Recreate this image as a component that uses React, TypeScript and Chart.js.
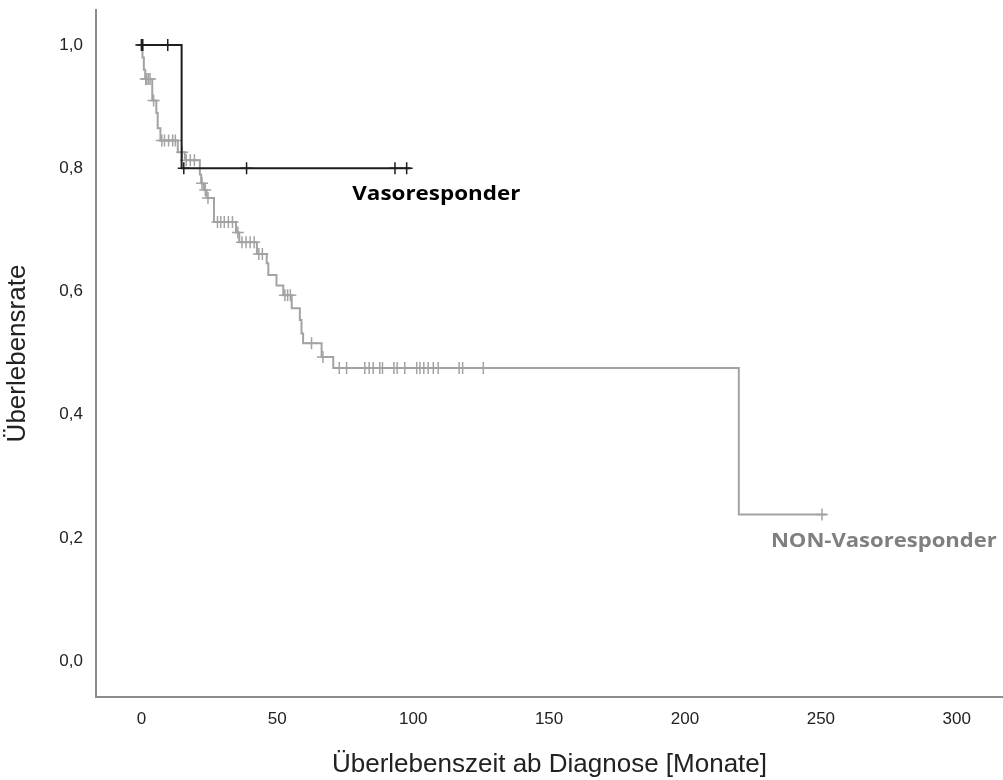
import React, { useEffect, useRef } from 'react';
import { Chart, registerables } from 'chart.js';

Chart.register(...registerables);

// Axis ticks
const xTicks = [0, 50, 100, 150, 200, 250, 300];
const yTicks = [0, 0.2, 0.4, 0.6, 0.8, 1.0];

// Vasoresponder: event times (months) and survival after each step
const vasoTimes = [0, 14.8, 99];
const vasoSurv = [1.0, 0.8, 0.8];
const vasoCensored = [0, 0.5, 9.7, 15.6, 38.7, 93.3, 97.6];

// NON-Vasoresponder
const nonTimes = [0, 0.4, 0.9, 1.4, 4.0, 5.5, 6.0, 7.0, 13.4, 16.0, 21.5, 22.0, 23.0, 24.0, 26.7, 34.8, 36.0, 42.5, 46.1, 46.7, 49.7, 52.2, 55.3, 58.3, 58.9, 59.5, 66.3, 70.6, 219.8, 252];
const nonSurv = [1.0, 0.98, 0.96, 0.945, 0.91, 0.89, 0.865, 0.845, 0.826, 0.813, 0.79, 0.776, 0.765, 0.752, 0.713, 0.696, 0.68, 0.661, 0.646, 0.627, 0.61, 0.594, 0.573, 0.554, 0.532, 0.516, 0.494, 0.476, 0.238, 0.238];
const nonCensored = [1.6, 2.0, 2.6, 3.2, 4.5, 7.5, 8.5, 10.0, 11.5, 12.5, 15.0, 16.5, 18.0, 19.5, 22.3, 23.5, 24.5, 28.0, 29.2, 30.5, 32.0, 33.5, 35.5, 37.0, 38.5, 40.0, 41.5, 43.2, 44.5, 52.8, 53.8, 54.8, 62.6, 66.8, 72.8, 75.5, 82.2, 83.8, 85.3, 87.7, 88.7, 92.9, 94.1, 96.9, 101.3, 102.5, 103.9, 105.5, 107.4, 109.2, 116.9, 118.2, 125.8, 250.4];

const groupLabels = ['Vasoresponder', 'NON-Vasoresponder'];
const xTitle = 'Überlebenszeit ab Diagnose [Monate]';
const yTitle = 'Überlebensrate';

function survAt(times: number[], surv: number[], t: number) {
  let s = surv[0];
  for (let i = 0; i < times.length; i++) {
    if (times[i] <= t) s = surv[i];
  }
  return s;
}

const BLACK = '#1e1e1e';
const GRAY = '#a3a3a3';

function drawStretched(ctx: CanvasRenderingContext2D, text: string, x: number, y: number, targetW: number) {
  const w = ctx.measureText(text).width;
  const sx = targetW / w;
  ctx.save();
  ctx.translate(x, y);
  ctx.scale(sx, 1);
  ctx.fillText(text, 0, 0);
  ctx.restore();
}

const labelPlugin = {
  id: 'groupLabels',
  afterDatasetsDraw(chart: any) {
    const { ctx, scales } = chart;
    const x = scales.x;
    const y = scales.y;
    ctx.save();
    ctx.textBaseline = 'middle';
    ctx.textAlign = 'left';
    ctx.font = 'bold 20px "Open Sans"';
    ctx.fillStyle = '#000000';
    drawStretched(ctx, groupLabels[0], x.getPixelForValue(77.6), y.getPixelForValue(0.758), 168);
    ctx.fillStyle = '#7f7f7f';
    drawStretched(ctx, groupLabels[1], x.getPixelForValue(231.6), y.getPixelForValue(0.195), 226);
    ctx.restore();
  },
};

export default function App() {
  const ref = useRef<HTMLCanvasElement>(null);
  useEffect(() => {
    document.body.style.margin = '0';
    const nonLine = nonTimes.map((t, i) => ({ x: t, y: nonSurv[i] }));
    const vasoLine = vasoTimes.map((t, i) => ({ x: t, y: vasoSurv[i] }));
    const nonCens = nonCensored.map((t) => ({ x: t, y: survAt(nonTimes, nonSurv, t) }));
    const vasoCens = vasoCensored.map((t) => ({ x: t, y: survAt(vasoTimes, vasoSurv, t) }));
    const tickFont = { family: '"Liberation Sans", Arial, sans-serif', size: 17 };
    const titleFont = { family: '"Liberation Sans", Arial, sans-serif', size: 26, lineHeight: 1.2 };
    const chart = new Chart(ref.current!, {
      type: 'scatter',
      data: {
        datasets: [
          {
            label: groupLabels[1],
            data: nonLine,
            showLine: true,
            stepped: true,
            borderColor: GRAY,
            borderWidth: 2,
            pointRadius: 0,
            order: 4,
          },
          {
            label: groupLabels[1] + ' zensiert',
            data: nonCens,
            showLine: false,
            pointStyle: 'cross',
            pointRadius: 6,
            borderColor: GRAY,
            borderWidth: 1.5,
            order: 3,
          },
          {
            label: groupLabels[0],
            data: vasoLine,
            showLine: true,
            stepped: true,
            borderColor: BLACK,
            borderWidth: 2,
            pointRadius: 0,
            order: 2,
          },
          {
            label: groupLabels[0] + ' zensiert',
            data: vasoCens,
            showLine: false,
            pointStyle: 'cross',
            pointRadius: 6,
            borderColor: BLACK,
            borderWidth: 1.5,
            order: 1,
          },
        ] as any,
      },
      options: {
        animation: false,
        responsive: false,
        maintainAspectRatio: false,
        layout: { autoPadding: false, padding: { top: 10, right: 0, left: 0, bottom: 0 } },
        plugins: { legend: { display: false }, tooltip: { enabled: false } },
        scales: {
          x: {
            type: 'linear',
            min: -16.7,
            max: 317,
            grid: { display: false, drawTicks: false },
            border: { color: '#8c8c8c', width: 2 },
            ticks: { font: tickFont, color: '#222', padding: 12, maxRotation: 0 },
            afterBuildTicks: (s: any) => {
              s.ticks = xTicks.map((v) => ({ value: v }));
            },
            afterFit: (s: any) => {
              s.height = 83;
              s.paddingLeft = 0;
              s.paddingRight = 0;
            },
            title: { display: true, text: xTitle, font: titleFont, color: '#222', padding: { top: 0, bottom: 0 } },
          },
          y: {
            type: 'linear',
            min: -0.058,
            max: 1.057,
            grid: { display: false, drawTicks: false },
            border: { color: '#8c8c8c', width: 2 },
            ticks: {
              font: tickFont,
              color: '#222',
              padding: 13,
              callback: (v: any) => Number(v).toFixed(1).replace('.', ','),
            },
            afterBuildTicks: (s: any) => {
              s.ticks = yTicks.map((v) => ({ value: v }));
            },
            afterFit: (s: any) => {
              s.width = 96;
              s.paddingTop = 0;
              s.paddingBottom = 0;
            },
            title: { display: true, text: yTitle, font: titleFont, color: '#222', padding: { top: 2, bottom: 0 } },
          },
        },
      } as any,
      plugins: [labelPlugin],
    });
    return () => chart.destroy();
  }, []);
  return (
    <div style={{ width: 1003, height: 780 }}>
      <canvas ref={ref} width={1003} height={780} style={{ display: 'block' }} />
    </div>
  );
}
